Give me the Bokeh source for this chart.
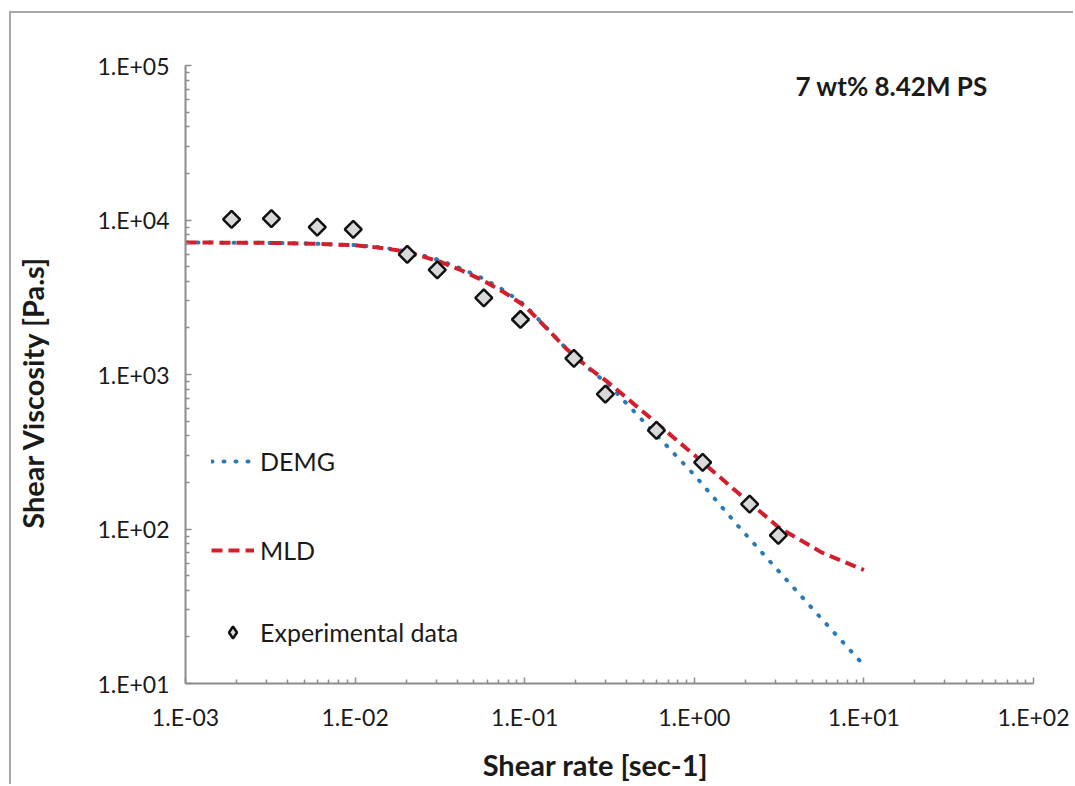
import numpy as np
from bokeh.plotting import figure
from bokeh.models import (FixedTicker, CustomJSTickFormatter, Label, Legend,
                          LegendItem, Range1d, ColumnDataSource)
from bokeh.embed import file_html
from bokeh.resources import INLINE

# ---- data ----
curve_x = [0.001, 0.00178, 0.00316, 0.00562, 0.01, 0.0133, 0.0178, 0.0237,
           0.0316, 0.0422, 0.0562, 0.075, 0.1, 0.133, 0.178, 0.237, 0.316,
           0.562, 1.0, 1.78, 3.16, 5.62, 10.0]
mld_y = [7160, 7130, 7110, 7030, 6860, 6650, 6370, 5910, 5370, 4730, 4080,
         3420, 2780, 2020, 1450, 1110, 875, 514, 301, 174, 102, 70.6, 54.3]
demg_y = [7160, 7130, 7110, 7030, 6880, 6700, 6420, 6000, 5480, 4850, 4200,
          3520, 2820, 2030, 1450, 1100, 849, 436, 224, 107, 53, 26.3, 13.1]
exp_x = [0.00187, 0.00321, 0.00598, 0.00975, 0.0203, 0.0305, 0.0574, 0.0944,
         0.195, 0.299, 0.598, 1.12, 2.12, 3.13]
exp_y = [10100, 10200, 9000, 8690, 6000, 4750, 3130, 2270, 1270, 747, 435,
         270, 145, 91]

x_decades = [1e-3, 1e-2, 1e-1, 1e0, 1e1, 1e2]
y_decades = [1e1, 1e2, 1e3, 1e4, 1e5]

series_names = ["DEMG", "MLD", "Experimental data"]
x_title = "Shear rate [sec-1]"
y_title = "Shear Viscosity [Pa.s]"
note = "7 wt% 8.42M PS"

FONT = "Lato"
AXIS_GRAY = "#8c8c8c"
TEXT = "#1a1a1a"
NBSP = "\u00a0"

def minors(decs):
    out = []
    for d in decs[:-1]:
        out += [m * d for m in range(2, 10)]
    return out

p = figure(width=1073, height=784, x_axis_type="log", y_axis_type="log",
           x_range=Range1d(x_decades[0], x_decades[-1]),
           y_range=Range1d(y_decades[0], y_decades[-1]),
           output_backend="svg", toolbar_location=None,
           min_border_left=185, min_border_right=40,
           min_border_top=65, min_border_bottom=97)
p.xgrid.visible = False
p.ygrid.visible = False
p.outline_line_color = None
p.background_fill_color = "white"
p.border_fill_alpha = 0
# chart-area border lines (left and top), drawn as the element background
p.styles = {
    "background-color": "white",
    "background-image": "linear-gradient(#a8a8a8,#a8a8a8), linear-gradient(#a8a8a8,#a8a8a8)",
    "background-size": "2px 100%, 100% 2px",
    "background-position": "9px 11px, 9px 11px",
    "background-repeat": "no-repeat",
}

fmt_code = """
const e = Math.round(Math.log10(tick));
const s = e < 0 ? "-" : "+";
const a = Math.abs(e);
return "1.E" + s + (a < 10 ? "0" : "") + a;
"""
for ax, decs in ((p.xaxis[0], x_decades), (p.yaxis[0], y_decades)):
    ax.ticker = FixedTicker(ticks=decs, minor_ticks=minors(decs))
    ax.formatter = CustomJSTickFormatter(code=fmt_code)
    ax.axis_line_color = AXIS_GRAY
    ax.axis_line_width = 2
    ax.major_tick_line_color = AXIS_GRAY
    ax.minor_tick_line_color = AXIS_GRAY
    ax.major_tick_line_width = 1.5
    ax.minor_tick_line_width = 1.5
    ax.major_tick_in = 6
    ax.major_tick_out = 0
    ax.minor_tick_in = 4
    ax.minor_tick_out = 0
    ax.major_label_text_font = FONT
    ax.major_label_text_font_size = "23px"
    ax.major_label_text_color = TEXT
p.xaxis[0].major_label_standoff = 19
p.yaxis[0].major_label_standoff = 16

# trailing no-break spaces nudge the centred titles to the reference spot
for ax, title, pad in ((p.xaxis[0], x_title, 4), (p.yaxis[0], y_title, 5)):
    ax.axis_label = title + NBSP * pad
    ax.axis_label_text_font = FONT
    ax.axis_label_text_font_style = "bold"
    ax.axis_label_text_font_size = "29px"
    ax.axis_label_text_color = TEXT
p.xaxis[0].axis_label_standoff = 13
p.yaxis[0].axis_label_standoff = 44

demg = p.line(curve_x, demg_y, line_color="#2a7ab5", line_width=4,
              line_dash="1 11", line_cap="round")
mld = p.line(curve_x, mld_y, line_color="#d21f2b", line_width=4,
             line_dash="11 6")
src = ColumnDataSource(dict(x=exp_x, y=exp_y))
expr = p.scatter("x", "y", source=src, marker="square", size=12,
                 angle=np.pi / 4, fill_color="#d9d9d9",
                 line_color="#111111", line_width=2.5)
# legend-only key glyph (legend swatches are drawn without rotation)
exp_key = p.scatter(x=[np.nan], y=[np.nan], marker="diamond", size=12,
                    fill_color="#d9d9d9", line_color="#111111", line_width=2.5)

leg_kw = dict(label_text_font=FONT, label_text_font_size="25px",
              label_text_color=TEXT, glyph_width=43, glyph_height=30,
              label_height=30, label_standoff=6, padding=0, margin=0,
              spacing=0, border_line_color=None, background_fill_alpha=0)
for name, rend, ypos in ((series_names[0], demg, 207),
                         (series_names[1], mld, 118),
                         (series_names[2], exp_key, 36)):
    lg = Legend(items=[LegendItem(label=name, renderers=[rend])],
                location=(26, ypos), **leg_kw)
    p.add_layout(lg)

p.add_layout(Label(x=610, y=598, x_units="screen", y_units="screen",
                   text=note, text_font=FONT, text_font_style="bold",
                   text_font_size="26px", text_color=TEXT,
                   text_align="left", text_baseline="alphabetic"))

open("out.html", "w").write(file_html(p, INLINE))
